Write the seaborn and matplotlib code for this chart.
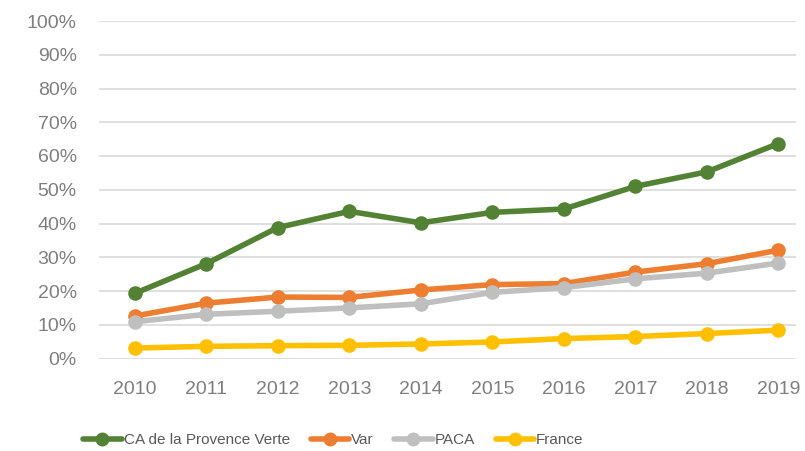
import matplotlib
matplotlib.use("Agg")
import matplotlib.pyplot as plt
import seaborn as sns
import pandas as pd
from matplotlib.ticker import FuncFormatter
from matplotlib.lines import Line2D

years = ["2010", "2011", "2012", "2013", "2014", "2015", "2016", "2017", "2018", "2019"]
ca_provence_verte = [19.3, 28.1, 38.8, 43.6, 40.2, 43.3, 44.3, 51.0, 55.3, 63.7]
var = [12.6, 16.4, 18.2, 18.1, 20.3, 21.9, 22.2, 25.6, 28.1, 32.1]
paca = [10.9, 13.1, 14.0, 15.0, 16.2, 19.6, 21.0, 23.6, 25.3, 28.3]
france = [3.1, 3.6, 3.8, 3.9, 4.3, 4.9, 5.9, 6.5, 7.4, 8.4]
series_names = ["CA de la Provence Verte", "Var", "PACA", "France"]
colors = ["#548235", "#ED7D31", "#BFBFBF", "#FFC000"]

sns.set_theme(style="white")
plt.rcParams['font.family'] = ['Liberation Sans', 'DejaVu Sans']

fig = plt.figure(figsize=(8.05, 4.51), dpi=100)
ax = fig.add_axes([99/805, 1-358.5/451, (796-99)/805, (358.5-21)/451])

frames = []
for name, vals in zip(series_names, [ca_provence_verte, var, paca, france]):
    frames.append(pd.DataFrame({"idx": range(len(years)), "val": vals, "serie": name}))
df = pd.concat(frames)

sns.lineplot(data=df, x="idx", y="val", hue="serie", palette=colors, hue_order=series_names,
             marker="o", markersize=10.5, markeredgewidth=0, linewidth=4, ax=ax, legend=False)

ax.set_xlim(-0.5, 9.245)
ax.set_ylim(0, 100)
ax.set_yticks(range(0, 101, 10))
ax.yaxis.set_major_formatter(FuncFormatter(lambda v, p: f"{int(v)}%"))
ax.set_xticks(range(len(years)))
ax.set_xticklabels(years)
ax.set_xlabel("")
ax.set_ylabel("")
ax.grid(axis="y", color="#D9D9D9", linewidth=1.2)
ax.grid(axis="x", visible=False)
ax.set_axisbelow(True)
for s in ax.spines.values():
    s.set_visible(False)
ax.tick_params(axis="both", length=0, colors="#7F7F7F", labelsize=14)
ax.tick_params(axis="y", pad=16)
ax.tick_params(axis="x", pad=16)

handles = [Line2D([0], [0], color=c, lw=4, marker="o", markersize=10, markeredgewidth=0) for c in colors]
leg = fig.legend(handles, series_names, loc="center", bbox_to_anchor=(333.5/805, 1-440/451), ncol=4,
                 frameon=False, fontsize=11, handlelength=2.5, handletextpad=0.15, columnspacing=1.35,
                 labelcolor="#595959")

fig.savefig("out.png", dpi=100)
